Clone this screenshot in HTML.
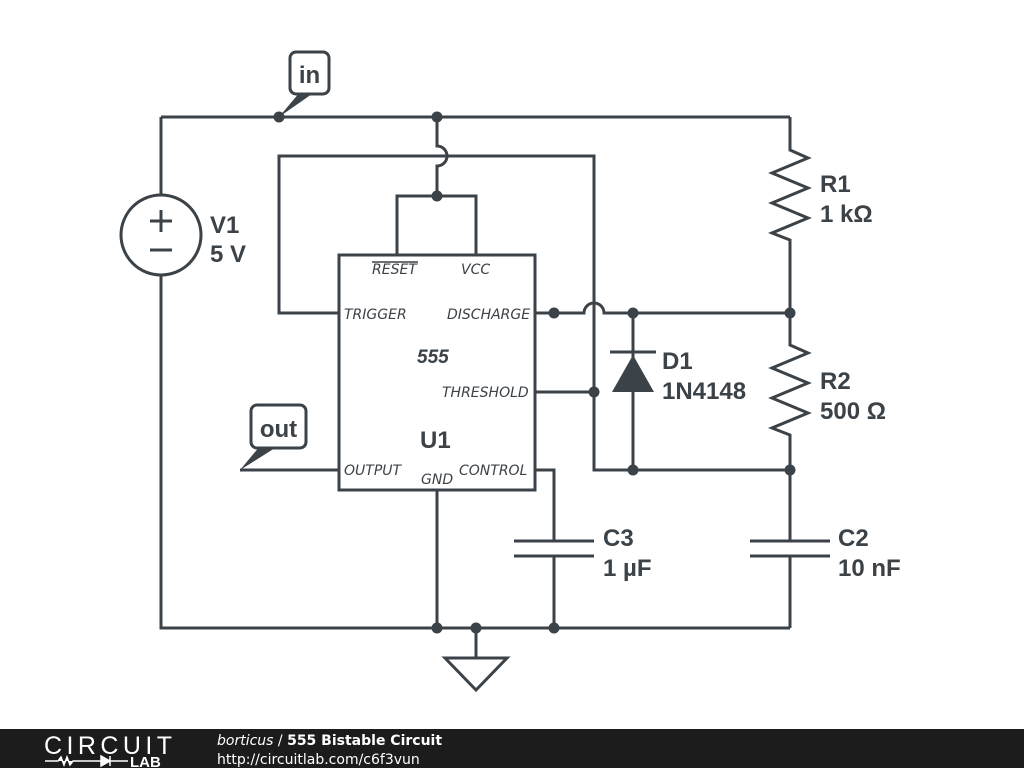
<!DOCTYPE html>
<html><head><meta charset="utf-8"><style>
html,body{margin:0;padding:0;background:#fff;}
svg{display:block;}
.l{font-family:"Liberation Sans",sans-serif;font-weight:bold;font-size:24px;fill:#3b4248;}
.p{font-family:"DejaVu Sans",sans-serif;font-style:italic;font-size:14px;fill:#3b4248;}
</style></head><body>
<svg width="1024" height="768" viewBox="0 0 1024 768">
<g fill="none" stroke="#3b4248" stroke-width="3">
<path d="M161 117H790M161 117V195M161 275V628H790"/>
<circle cx="161" cy="235" r="40"/>
<path d="M150 221h22M161 210v22M150 250h22"/>
<path d="M437 117V146a10 10 0 0 1 0 20V196M397 255V196H476V255"/>
<rect x="339" y="255" width="196" height="235"/>
<path d="M339 313H279V156H594V470H790"/>
<path d="M535 313H584a10 10 0 0 1 20 0H790"/>
<path d="M535 392H594"/>
<path d="M633 313V470M610 352H656"/>
<path d="M535 470H554V541M554 556V628M514 541H594M514 556H594"/>
<path d="M339 470H240"/>
<path d="M437 490V628M476 628V658"/>
<path d="M445 658H507L476 690Z"/>
<path d="M790 117V150L808 158L772 173L808 188L772 203L808 218L772 233L790 240V313"/>
<path d="M790 313V345L808 353L772 368L808 383L772 398L808 413L772 428L790 435V541M790 556V628"/>
<path d="M750 541H830M750 556H830" />
</g>
<path d="M612 392H654L633 355Z" fill="#3b4248"/>
<g fill="#3b4248">
<circle cx="279" cy="117" r="5.5"/><circle cx="437" cy="117" r="5.5"/><circle cx="437" cy="196" r="5.5"/>
<circle cx="554" cy="313" r="5.5"/><circle cx="633" cy="313" r="5.5"/><circle cx="790" cy="313" r="5.5"/>
<circle cx="594" cy="392" r="5.5"/><circle cx="633" cy="470" r="5.5"/><circle cx="790" cy="470" r="5.5"/>
<circle cx="437" cy="628" r="5.5"/><circle cx="476" cy="628" r="5.5"/><circle cx="554" cy="628" r="5.5"/>
<path d="M279 117L300 92L312 94Z"/>
<path d="M240 470L260 446L275 448Z"/>
</g>
<rect x="290" y="52" width="39" height="42" rx="6" fill="#fff" stroke="#3b4248" stroke-width="3"/>
<text x="309.5" y="83" text-anchor="middle" class="l">in</text>
<rect x="251" y="405" width="55" height="43" rx="6" fill="#fff" stroke="#3b4248" stroke-width="3"/>
<text x="278.5" y="437" text-anchor="middle" class="l">out</text>
<text x="210" y="233" class="l">V1</text><text x="210" y="262" class="l">5 V</text>
<text x="820" y="192" class="l">R1</text><text x="820" y="222" class="l">1 kΩ</text>
<text x="662" y="369" class="l">D1</text><text x="662" y="399" class="l">1N4148</text>
<text x="820" y="389" class="l">R2</text><text x="820" y="419" class="l">500 Ω</text>
<text x="603" y="546" class="l">C3</text><text x="603" y="576" class="l">1 µF</text>
<text x="838" y="546" class="l">C2</text><text x="838" y="576" class="l">10 nF</text>
<text x="420" y="448" class="l">U1</text>
<text x="417" y="363" class="l" style="font-style:italic;font-size:19px">555</text>
<text x="372" y="274" class="p">RESET</text><path d="M372 262H418" stroke="#3b4248" stroke-width="1.5"/>
<text x="461" y="274" class="p">VCC</text>
<text x="344" y="319" class="p">TRIGGER</text>
<text x="447" y="319" class="p">DISCHARGE</text>
<text x="442" y="397" class="p">THRESHOLD</text>
<text x="344" y="475" class="p">OUTPUT</text>
<text x="459" y="475" class="p">CONTROL</text>
<text x="421" y="484" class="p">GND</text>
<rect x="0" y="729" width="1024" height="39" fill="#1c1c1c"/>
<text x="44" y="754" font-family="Liberation Sans,sans-serif" font-size="25" fill="#fff" textLength="128">CIRCUIT</text>
<path d="M45 761H58l3-4 3 8 3-8 3 8 3-4H85M85 761h16M101 756v10l9-5z M110 756v10M110 761h18" stroke="#fff" stroke-width="1.5" fill="#fff"/>
<text x="130" y="767" font-family="Liberation Sans,sans-serif" font-weight="bold" font-size="15" fill="#fff">LAB</text>
<text x="217" y="745" font-family="DejaVu Sans,sans-serif" font-size="14" fill="#fff"><tspan font-style="italic">borticus</tspan> / <tspan font-weight="bold">555 Bistable Circuit</tspan></text>
<text x="217" y="764" font-family="DejaVu Sans,sans-serif" font-size="14" fill="#fff">http://circuitlab.com/c6f3vun</text>
</svg>
</body></html>
